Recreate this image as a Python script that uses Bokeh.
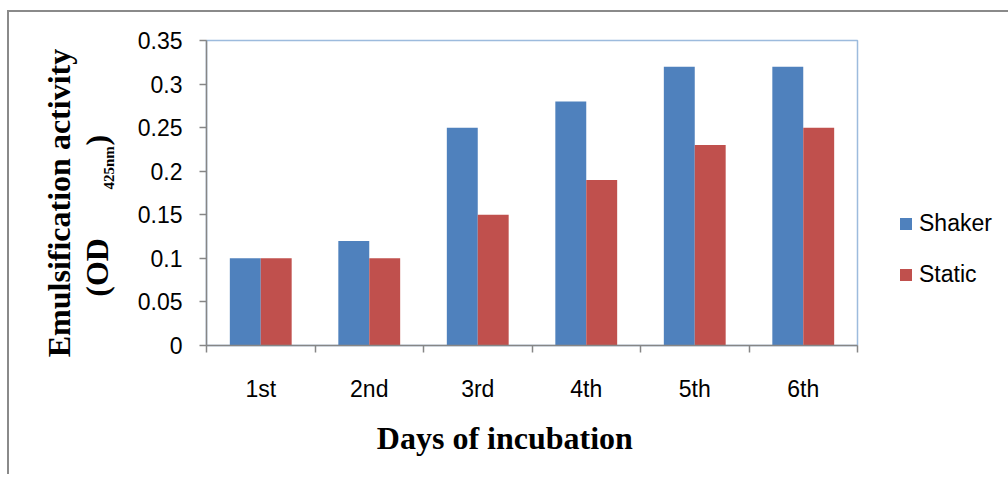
import math
import numpy as np
from bokeh.plotting import figure
from bokeh.models import ColumnDataSource, FixedTicker, Range1d, Legend, LegendItem, Label
from bokeh.transform import dodge
from bokeh.embed import file_html
from bokeh.resources import INLINE

days = ["1st", "2nd", "3rd", "4th", "5th", "6th"]
shaker = [0.10, 0.12, 0.25, 0.28, 0.32, 0.32]
static = [0.10, 0.10, 0.15, 0.19, 0.23, 0.25]
y_ticks = [0.0, 0.05, 0.1, 0.15, 0.2, 0.25, 0.3, 0.35]
y_tick_labels = ["0", "0.05", "0.1", "0.15", "0.2", "0.25", "0.3", "0.35"]

x_pos = np.arange(len(days)) + 0.5
src = ColumnDataSource(dict(x=x_pos, day=days, shaker=shaker, static=static))

AX = "#868686"
p = figure(frame_width=651, frame_height=305,
           min_border_left=197, min_border_top=28, min_border_right=144, min_border_bottom=129,
           x_range=Range1d(0, len(days)), y_range=Range1d(0, 0.35),
           output_backend="svg", toolbar_location=None)
p.styles = {"border-left": "2px solid #8a8a8a", "border-top": "2px solid #8a8a8a",
            "margin-top": "10px", "margin-left": "7px"}
p.xgrid.visible = False
p.ygrid.visible = False
p.outline_line_color = "#9dbbdd"
p.outline_line_width = 1.5
p.background_fill_color = "white"
p.border_fill_color = "white"

bw = 0.285
r1 = p.vbar(x=dodge("x", -bw / 2), top="shaker", width=bw, source=src,
            fill_color="#4f81bd", line_color=None)
r2 = p.vbar(x=dodge("x", bw / 2), top="static", width=bw, source=src,
            fill_color="#c0504d", line_color=None)

xa = p.xaxis[0]
xa.ticker = FixedTicker(ticks=list(x_pos), minor_ticks=list(range(len(days) + 1)))
xa.major_label_overrides = {float(v): d for v, d in zip(x_pos, days)}
xa.major_tick_out = 0
xa.major_tick_in = 0
xa.major_tick_line_color = None
xa.minor_tick_out = 7
xa.minor_tick_in = 0
xa.minor_tick_line_color = AX
xa.minor_tick_line_width = 1.5
xa.axis_line_color = AX
xa.axis_line_width = 1.5
xa.major_label_text_font = "Liberation Sans"
xa.major_label_text_font_size = "23px"
xa.major_label_text_color = "black"
xa.major_label_standoff = 23

ya = p.yaxis[0]
ya.ticker = FixedTicker(ticks=y_ticks, minor_ticks=[])
ya.major_label_overrides = {float(t): s for t, s in zip(y_ticks, y_tick_labels)}
ya.major_tick_out = 7
ya.major_tick_in = 0
ya.major_tick_line_color = AX
ya.major_tick_line_width = 1.5
ya.axis_line_color = AX
ya.axis_line_width = 1.5
ya.major_label_text_font = "Liberation Sans"
ya.major_label_text_font_size = "23px"
ya.major_label_text_color = "black"
ya.major_label_standoff = 17

legend = Legend(items=[LegendItem(label="Shaker", renderers=[r1]),
                       LegendItem(label="Static", renderers=[r2])],
                location=(41, 57), orientation="vertical",
                glyph_width=15, glyph_height=15, label_standoff=6,
                label_height=24, spacing=24, padding=0, margin=0,
                border_line_color=None, background_fill_alpha=0,
                label_text_font="Liberation Sans", label_text_font_size="23px",
                label_text_color="black")
p.add_layout(legend, "right")

serif = "Liberation Serif"
p.add_layout(Label(x=2.75, y=-0.1067, text="Days of incubation", text_align="center",
                   text_baseline="alphabetic", text_font=serif, text_font_style="bold",
                   text_font_size="32px", text_color="black"), "below")
p.add_layout(Label(x=-1.355, y=0.1635, angle=math.pi / 2, text="Emulsification activity",
                   text_align="center", text_baseline="alphabetic", text_font=serif,
                   text_font_style="bold", text_font_size="32px", text_color="black"), "left")
p.add_layout(Label(x=-1.013, y=0.056, angle=math.pi / 2, text="(OD",
                   text_align="left", text_baseline="alphabetic", text_font=serif,
                   text_font_style="bold", text_font_size="32px", text_color="black"), "left")
p.add_layout(Label(x=-0.903, y=0.179, angle=math.pi / 2, text="425nm",
                   text_align="left", text_baseline="alphabetic", text_font=serif,
                   text_font_style="bold", text_font_size="15px", text_color="black"), "left")
p.add_layout(Label(x=-1.013, y=0.2295, angle=math.pi / 2, text=")",
                   text_align="left", text_baseline="alphabetic", text_font=serif,
                   text_font_style="bold", text_font_size="32px", text_color="black"), "left")

open("out.html", "w").write(file_html(p, INLINE))
